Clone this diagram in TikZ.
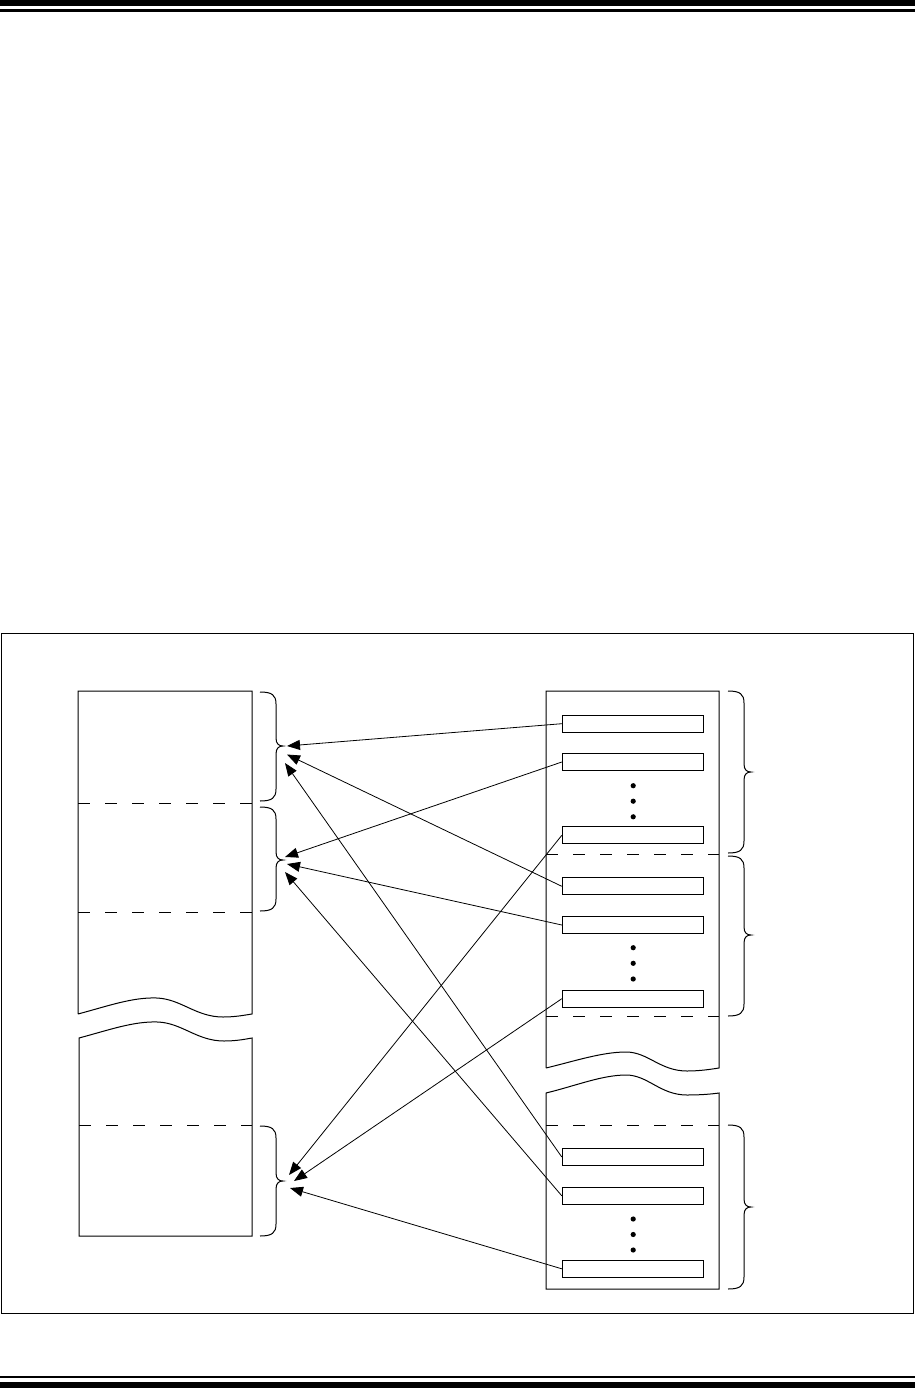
\documentclass[tikz,border=0pt]{standalone}
\usetikzlibrary{arrows.meta}
\tikzset{
  ln/.style={line width=1pt},
  dsh/.style={line width=1pt, dash pattern=on 12pt off 15pt},
  slot/.style={draw, line width=1pt, rectangle, minimum width=141pt, minimum height=17pt, inner sep=0pt},
  ptr/.style={line width=0.8pt, -{Triangle[length=13pt,width=10pt]}},
  bracestyle/.style={line width=1pt},
  dotfill/.style={fill=black}
}
\newcommand{\mybrace}[4]{%
  \draw[bracestyle] (#1,#2) .. controls (#1+12,#2) and (#1+16,#2+3) .. (#1+16,#2+12)
    -- (#1+16,#3-8) .. controls (#1+16,#3-2) and (#1+19,#3) .. (#1+23,#3)
    .. controls (#1+19,#3) and (#1+16,#3+2) .. (#1+16,#3+8)
    -- (#1+16,#4-12) .. controls (#1+16,#4-3) and (#1+12,#4) .. (#1,#4);}
\begin{document}
\begin{tikzpicture}[x=1pt,y=-1pt]
\useasboundingbox (0,0) rectangle (915,1388);
% header / footer bars
\fill (0,0) rectangle (915,6);
\fill (0,9.5) rectangle (915,12);
\fill (0,1375.5) rectangle (915,1377.8);
\fill (0,1382) rectangle (915,1388);
% frame
\draw[ln] (1,633) rectangle (913,1313);
% left column, upper piece
\draw[ln] (78,1014) -- (78,691) -- (252,691) -- (252,1014)
  .. controls (245,1015) and (236,1017) .. (223,1017)
  .. controls (196,1017) and (181,999) .. (157,998)
  .. controls (133,997) and (108,1006) .. (78,1014);
% left column, lower piece
\draw[ln] (79,1038) .. controls (109,1030) and (134,1021) .. (158,1022)
  .. controls (182,1023) and (197,1041) .. (224,1041)
  .. controls (237,1041) and (246,1039) .. (252,1038)
  -- (252,1236) -- (79,1236) -- cycle;
\draw[dsh] (78,803) -- (252,803);
\draw[dsh] (78,912) -- (252,912);
\draw[dsh] (79,1125) -- (252,1125);
% right column, upper piece
\draw[ln] (546,1068) -- (546,691) -- (719,691) -- (719,1068)
  .. controls (712,1069) and (701,1071) .. (687,1071)
  .. controls (660,1071) and (648,1052) .. (626,1052)
  .. controls (602,1052) and (575,1061) .. (546,1068);
% right column, lower piece
\draw[ln] (546,1093) .. controls (575,1086) and (602,1075) .. (626,1075)
  .. controls (648,1075) and (660,1095) .. (687,1095)
  .. controls (701,1095) and (712,1094) .. (719,1093)
  -- (719,1289) -- (546,1289) -- cycle;
\draw[dsh] (546,854) -- (719,854);
\draw[dsh] (546,1016.5) -- (719,1016.5);
\draw[dsh] (546,1125) -- (719,1125);
% braces
\mybrace{260}{692}{746}{801}
\mybrace{260}{807}{860}{911}
\mybrace{260}{1126}{1181}{1236}
\mybrace{728}{691}{772}{853}
\mybrace{728}{856}{935}{1016}
\mybrace{728}{1125}{1207}{1289}
% slots
\node[slot] (r1) at (632.8,723.7) {};
\node[slot] (r2) at (632.8,762) {};
\node[slot] (r3) at (632.8,835.3) {};
\node[slot] (r4) at (632.8,886.3) {};
\node[slot] (r5) at (632.8,925) {};
\node[slot] (r6) at (632.8,998.7) {};
\node[slot] (r7) at (632.8,1157) {};
\node[slot] (r8) at (632.8,1195.8) {};
\node[slot] (r9) at (632.8,1268.8) {};
% dots
\foreach \yy in {785.7,801.2,816.8,947.7,963.3,979,1219,1234.5,1250}
  \fill[dotfill] (633.2,\yy) circle (2.6);
% targets
\coordinate (t1) at (287,746);
\coordinate (t2) at (285,857);
\coordinate (t3) at (289,1175);
\coordinate (t4) at (287,754.5);
\coordinate (t5) at (287,864);
\coordinate (t6) at (294,1181);
\coordinate (t7) at (285,763);
\coordinate (t8) at (285,872);
\coordinate (t9) at (290,1188);
% pointers
\draw[ptr] (r1.west) -- (t1);
\draw[ptr] (r2.west) -- (t2);
\draw[ptr] (r3.west) -- (t3);
\draw[ptr] (r4.west) -- (t4);
\draw[ptr] (r5.west) -- (t5);
\draw[ptr] (r6.west) -- (t6);
\draw[ptr] (r7.west) -- (t7);
\draw[ptr] (r8.west) -- (t8);
\draw[ptr] (r9.west) -- (t9);
\end{tikzpicture}
\end{document}
